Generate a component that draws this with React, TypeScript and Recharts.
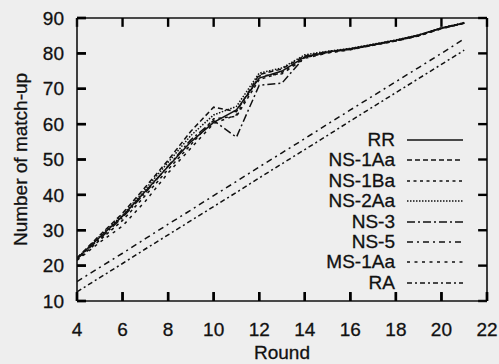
import React from 'react';
import { LineChart, Line, XAxis, YAxis, ReferenceLine } from 'recharts';

const rounds = [4, 5, 6, 7, 8, 9, 10, 11, 12, 13, 14, 15, 16, 17, 18, 19, 20, 21];
const rr = [22.0, 28.0, 34.0, 41.0, 48.0, 55.0, 60.5, 64.0, 73.0, 75.0, 79.0, 80.4, 81.3, 82.5, 83.7, 85.2, 87.2, 88.6];
const ns1Aa = [22.2, 28.6, 34.8, 42.2, 49.8, 58.0, 64.8, 63.5, 74.0, 75.6, 79.3, 80.5, 81.2, 82.4, 83.6, 85.0, 87.0, 88.5];
const ns1Ba = [21.6, 27.2, 32.8, 39.8, 47.2, 54.2, 61.5, 62.2, 72.6, 74.6, 78.8, 80.2, 81.1, 82.3, 83.5, 85.0, 87.1, 88.6];
const ns2Aa = [22.1, 28.3, 34.3, 41.6, 49.2, 56.8, 62.6, 65.0, 74.4, 75.9, 79.6, 80.6, 81.4, 82.6, 83.8, 85.2, 87.2, 88.7];
const ns3 = [21.9, 27.6, 33.6, 40.6, 48.2, 55.6, 61.0, 56.3, 71.0, 71.6, 79.0, 80.3, 81.2, 82.4, 83.6, 85.1, 87.1, 88.6];
const ns5 = [15.5, 19.5, 23.5, 27.6, 31.7, 35.7, 39.8, 43.8, 47.9, 51.9, 55.9, 60.0, 64.0, 68.0, 72.0, 76.0, 80.0, 84.1];
const ms1Aa = [21.5, 26.6, 31.2, 38.2, 46.2, 53.2, 60.2, 62.6, 73.6, 74.2, 78.6, 80.1, 81.0, 82.3, 83.5, 84.9, 87.0, 88.5];
const ra = [12.6, 16.6, 20.6, 24.7, 28.7, 32.7, 36.7, 40.7, 44.8, 48.8, 52.8, 56.8, 60.9, 64.9, 68.9, 72.9, 76.9, 80.9];

const xTicks = [4, 6, 8, 10, 12, 14, 16, 18, 20, 22];
const yTicks = [10, 20, 30, 40, 50, 60, 70, 80, 90];
const X_MIN = 4;
const X_MAX = 22;
const Y_MIN = 10;
const Y_MAX = 90;

const series = [
  { key: 'RR', values: rr, dash: undefined as string | undefined },
  { key: 'NS-1Aa', values: ns1Aa, dash: '5 3' },
  { key: 'NS-1Ba', values: ns1Ba, dash: '3 3.5' },
  { key: 'NS-2Aa', values: ns2Aa, dash: '1.5 1.5' },
  { key: 'NS-3', values: ns3, dash: '8 3 2 3' },
  { key: 'NS-5', values: ns5, dash: '6 4 2 4' },
  { key: 'MS-1Aa', values: ms1Aa, dash: '3 4.5' },
  { key: 'RA', values: ra, dash: '5 3 2 3' },
];

const data = rounds.map((r, i) => {
  const row: Record<string, number> = { round: r };
  series.forEach((s) => {
    row[s.key] = s.values[i];
  });
  return row;
});

const FONT = '"Liberation Sans", Arial, Helvetica, sans-serif';
const TXT = { fill: '#111', fontSize: 19, fontFamily: FONT, stroke: '#111', strokeWidth: 0.3 };
const TICK = 9;
const XM = 22;
const YM = 13;
const TICK_Y_UNITS = 2.5;
const TICK_X_UNITS = 0.39;

const BottomTick = (p: any) => {
  const { x, y, payload } = p;
  const base = y - XM;
  return (
    <g>
      <line x1={x} y1={base} x2={x} y2={base - TICK} stroke="#000" strokeWidth={2.4} />
      <text x={x} y={y} dy="0.71em" textAnchor="middle" {...TXT}>{payload.value}</text>
    </g>
  );
};

const LeftTick = (p: any) => {
  const { x, y, payload } = p;
  const base = x + YM;
  return (
    <g>
      <line x1={base} y1={y} x2={base + TICK} y2={y} stroke="#000" strokeWidth={2.4} />
      <text x={x} y={y} dy="0.355em" textAnchor="end" {...TXT}>{payload.value}</text>
    </g>
  );
};

const LegendBox = () => (
  <div style={{ position: 'absolute', left: 0, top: 0, width: 499, height: 364, fontFamily: FONT, fontSize: 19, color: '#111', WebkitTextStroke: '0.3px #111', pointerEvents: 'none' }}>
    {series.map((s, i) => {
      const cy = 140 + i * 20.4;
      return (
        <div key={s.key} style={{ position: 'absolute', left: 300, top: cy - 11, width: 170, height: 22 }}>
          <span style={{ position: 'absolute', right: 170 - 95, top: 0, lineHeight: '22px', whiteSpace: 'nowrap' }}>{s.key}</span>
          <svg style={{ position: 'absolute', left: 106, top: 0 }} width={58} height={22}>
            <line x1={1} y1={11} x2={57} y2={11} stroke="#111" strokeWidth={1.5} strokeDasharray={s.dash} />
          </svg>
        </div>
      );
    })}
  </div>
);

export default function App() {
  return (
    <div style={{ position: 'absolute', left: 0, top: 0, width: 499, height: 364, background: '#eeeeee' }}>
      <LineChart width={499} height={364} data={data} margin={{ top: 18, right: 12, bottom: 0, left: 0 }}>
        <XAxis
          dataKey="round"
          type="number"
          domain={[X_MIN, X_MAX]}
          ticks={xTicks}
          height={63}
          tickLine={false}
          tickSize={0}
          tickMargin={XM}
          tick={BottomTick}
          stroke="#111"
          strokeWidth={1.6}
          allowDataOverflow
          interval={0}
          label={{ value: 'Round', position: 'insideBottom', offset: 5, style: TXT }}
        />
        <YAxis
          type="number"
          domain={[Y_MIN, Y_MAX]}
          ticks={yTicks}
          width={77}
          tickLine={false}
          tickSize={0}
          tickMargin={YM}
          tick={LeftTick}
          stroke="#111"
          strokeWidth={1.6}
          allowDataOverflow
          interval={0}
          label={{ value: 'Number of match-up', angle: -90, position: 'insideLeft', offset: 20, style: { ...TXT, textAnchor: 'middle' } }}
        />
        <ReferenceLine y={Y_MAX} stroke="#111" strokeWidth={1.6} ifOverflow="visible" />
        <ReferenceLine x={X_MAX} stroke="#111" strokeWidth={1.6} ifOverflow="visible" />
        {xTicks.map((t) => (
          <ReferenceLine key={'xt' + t} ifOverflow="visible" segment={[{ x: t, y: Y_MAX }, { x: t, y: Y_MAX - TICK_Y_UNITS }]} stroke="#000" strokeWidth={2.4} />
        ))}
        {xTicks.map((t) => (
          <ReferenceLine key={'xb' + t} ifOverflow="visible" segment={[{ x: t, y: Y_MIN }, { x: t, y: Y_MIN + TICK_Y_UNITS }]} stroke="#000" strokeWidth={2.4} />
        ))}
        {yTicks.map((t) => (
          <ReferenceLine key={'yr' + t} ifOverflow="visible" segment={[{ x: X_MAX, y: t }, { x: X_MAX - TICK_X_UNITS, y: t }]} stroke="#000" strokeWidth={2.4} />
        ))}
        {yTicks.map((t) => (
          <ReferenceLine key={'yl' + t} ifOverflow="visible" segment={[{ x: X_MIN, y: t }, { x: X_MIN + TICK_X_UNITS, y: t }]} stroke="#000" strokeWidth={2.4} />
        ))}
        {series.map((s) => (
          <Line
            key={s.key}
            type="linear"
            dataKey={s.key}
            stroke="#111"
            strokeWidth={1.5}
            strokeDasharray={s.dash}
            dot={false}
            isAnimationActive={false}
          />
        ))}
      </LineChart>
      <LegendBox />
    </div>
  );
}
